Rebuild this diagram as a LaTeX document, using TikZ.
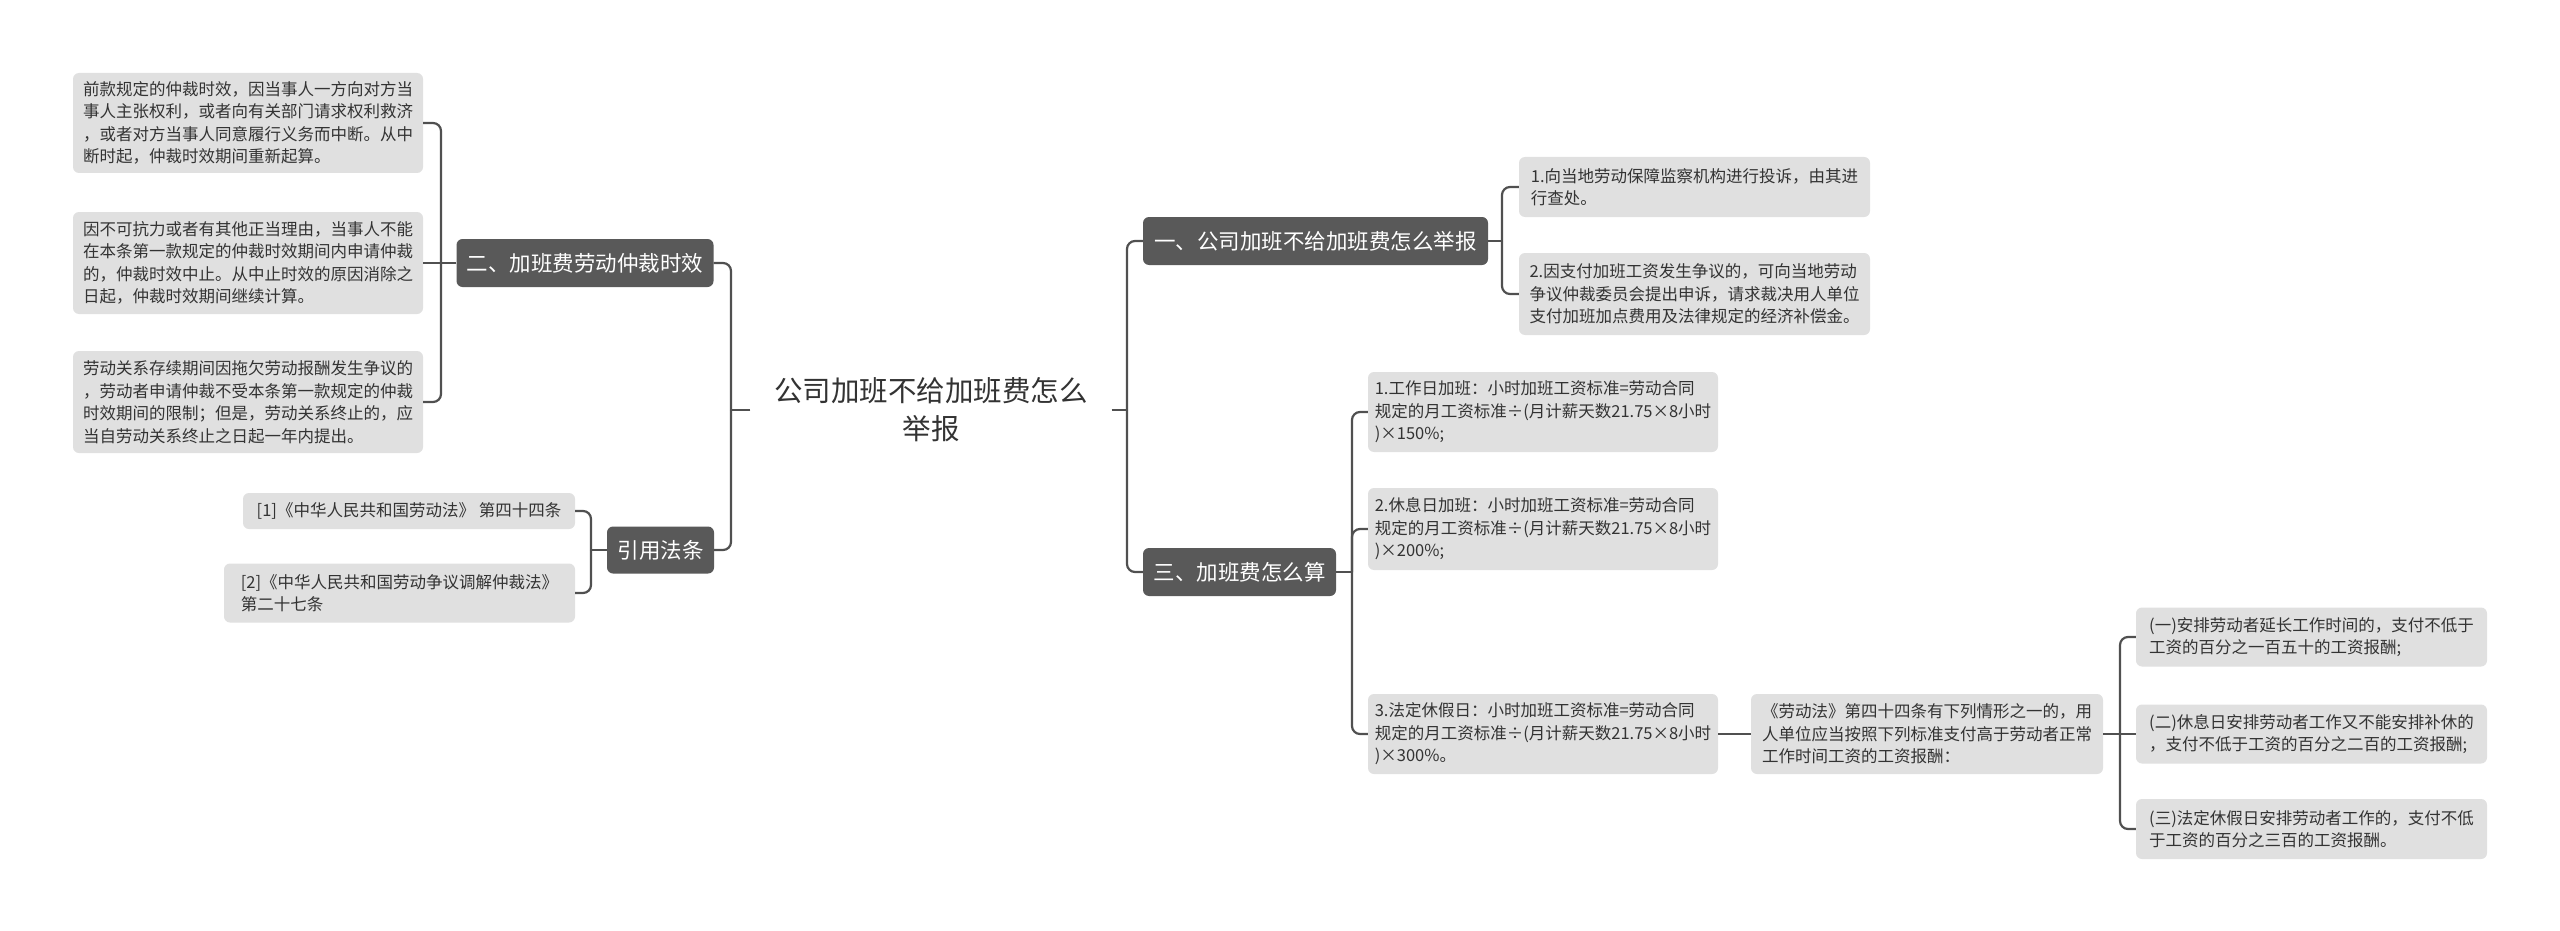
\documentclass[tikz,border=0pt]{standalone}
\usepackage{fontspec}
\setmainfont{Noto Sans CJK SC}
\definecolor{leafc}{HTML}{E0E0E0}
\definecolor{branchc}{HTML}{595959}
\definecolor{linec}{HTML}{505050}
\definecolor{textc}{HTML}{333333}
\begin{document}
\begin{tikzpicture}[x=1pt,y=-1pt,
  leaf/.style={fill=leafc, rounded corners=6pt, text=textc, font=\fontsize{16.5}{22.5}\selectfont, align=left, inner sep=0pt},
  branch/.style={fill=branchc, rounded corners=6pt, text=white, font=\fontsize{21.5}{26}\selectfont, inner sep=0pt},
  rootnode/.style={text=textc, font=\fontsize{28.5}{38}\selectfont, align=center, inner sep=0pt},
  conn/.style={draw=linec, line width=2.2pt, rounded corners=8pt}]
\useasboundingbox (0,0) rectangle (2560,931);
\fill[white] (0,0) rectangle (2560,931);

% root
\node[rootnode, minimum width=361pt] (root) at (931,410) {公司加班不给加班费怎么\\举报};

% left branches
\node[branch, minimum width=257pt, minimum height=48pt] (b2) at (585,263) {二、加班费劳动仲裁时效};
\node[branch, minimum width=107pt, minimum height=47pt] (b4) at (660.5,550) {引用法条};

\node[leaf, minimum width=350pt, minimum height=100pt] (l1) at (248,123) {前款规定的仲裁时效，因当事人一方向对方当\\事人主张权利，或者向有关部门请求权利救济\\，或者对方当事人同意履行义务而中断。从中\\断时起，仲裁时效期间重新起算。};
\node[leaf, minimum width=350pt, minimum height=102pt] (l2) at (248,263) {因不可抗力或者有其他正当理由，当事人不能\\在本条第一款规定的仲裁时效期间内申请仲裁\\的，仲裁时效中止。从中止时效的原因消除之\\日起，仲裁时效期间继续计算。};
\node[leaf, minimum width=350pt, minimum height=102pt] (l3) at (248,402) {劳动关系存续期间因拖欠劳动报酬发生争议的\\，劳动者申请仲裁不受本条第一款规定的仲裁\\时效期间的限制；但是，劳动关系终止的，应\\当自劳动关系终止之日起一年内提出。};

\node[leaf, minimum width=332pt, minimum height=36pt] (r1) at (409,511) {[1]《中华人民共和国劳动法》 第四十四条};
\node[leaf, minimum width=351pt, minimum height=59pt] (r2) at (399.5,593) {[2]《中华人民共和国劳动争议调解仲裁法》\\第二十七条};

% right branches
\node[branch, minimum width=345pt, minimum height=48pt] (b1) at (1315.5,241) {一、公司加班不给加班费怎么举报};
\node[branch, minimum width=193pt, minimum height=48pt] (b3) at (1239.5,572) {三、加班费怎么算};

\node[leaf, minimum width=351pt, minimum height=60pt] (a1) at (1694.5,187) {1.向当地劳动保障监察机构进行投诉，由其进\\行查处。};
\node[leaf, minimum width=351pt, minimum height=82pt] (a2) at (1694.5,294) {2.因支付加班工资发生争议的，可向当地劳动\\争议仲裁委员会提出申诉，请求裁决用人单位\\支付加班加点费用及法律规定的经济补偿金。};

\node[leaf, minimum width=350pt, minimum height=80pt] (s1) at (1543,412) {1.工作日加班：小时加班工资标准=劳动合同\\规定的月工资标准÷(月计薪天数21.75×8小时\\)×150\%;};
\node[leaf, minimum width=350pt, minimum height=82pt] (s2) at (1543,529) {2.休息日加班：小时加班工资标准=劳动合同\\规定的月工资标准÷(月计薪天数21.75×8小时\\)×200\%;};
\node[leaf, minimum width=350pt, minimum height=80pt] (s3) at (1543,734) {3.法定休假日：小时加班工资标准=劳动合同\\规定的月工资标准÷(月计薪天数21.75×8小时\\)×300\%。};

\node[leaf, minimum width=352pt, minimum height=80pt] (c) at (1927,734) {《劳动法》第四十四条有下列情形之一的，用\\人单位应当按照下列标准支付高于劳动者正常\\工作时间工资的工资报酬：};

\node[leaf, minimum width=351pt, minimum height=59pt] (d1) at (2311.5,637) {(一)安排劳动者延长工作时间的，支付不低于\\工资的百分之一百五十的工资报酬;};
\node[leaf, minimum width=351pt, minimum height=59pt] (d2) at (2311.5,734) {(二)休息日安排劳动者工作又不能安排补休的\\，支付不低于工资的百分之二百的工资报酬;};
\node[leaf, minimum width=351pt, minimum height=60pt] (d3) at (2311.5,829) {(三)法定休假日安排劳动者工作的，支付不低\\于工资的百分之三百的工资报酬。};

% junctions
\coordinate (jl) at (731,410);
\coordinate (jr) at (1127,410);
\coordinate (j2) at (441,263);
\coordinate (j4) at (591,550);
\coordinate (j1) at (1502,241);
\coordinate (j3) at (1352,572);
\coordinate (jc) at (2120,734);

% connectors
\draw[conn] (root.west) -- (jl);
\draw[conn] (jl) |- (b2.east);
\draw[conn] (jl) |- (b4.east);
\draw[conn] (root.east) -- (jr);
\draw[conn] (jr) |- (b1.west);
\draw[conn] (jr) |- (b3.west);

\draw[conn] (b2.west) -- (j2);
\draw[conn] (j2) |- (l1.east);
\draw[conn] (j2) -- (l2.east);
\draw[conn] (j2) |- (l3.east);

\draw[conn] (b4.west) -- (j4);
\draw[conn] (j4) |- (r1.east);
\draw[conn] (j4) |- (r2.east);

\draw[conn] (b1.east) -- (j1);
\draw[conn] (j1) |- (a1.west);
\draw[conn] (j1) |- (a2.west);

\draw[conn] (b3.east) -- (j3);
\draw[conn] (j3) |- (s1.west);
\draw[conn] (j3) |- (s2.west);
\draw[conn] (j3) |- (s3.west);

\draw[conn] (s3.east) -- (c.west);

\draw[conn] (c.east) -- (jc);
\draw[conn] (jc) |- (d1.west);
\draw[conn] (jc) -- (d2.west);
\draw[conn] (jc) |- (d3.west);
\end{tikzpicture}
\end{document}
